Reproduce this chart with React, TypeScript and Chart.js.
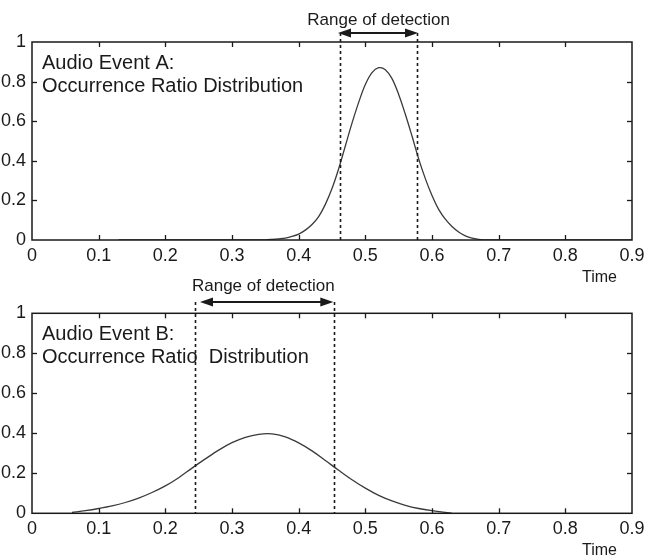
import React, { useEffect, useRef } from "react";
import { Chart, registerables } from "chart.js";

Chart.register(...registerables);

// ---------- data ----------
const timeA = [0.13, 0.2, 0.3, 0.35, 0.36, 0.37, 0.38, 0.39, 0.4, 0.41, 0.42, 0.43, 0.44, 0.45, 0.46, 0.47, 0.48, 0.49, 0.5, 0.51, 0.52, 0.53, 0.54, 0.55, 0.56, 0.57, 0.58, 0.59, 0.6, 0.61, 0.62, 0.63, 0.64, 0.65, 0.66, 0.67, 0.68, 0.75, 0.9];
const valueA = [0, 0, 0, 0.001, 0.003, 0.006, 0.01, 0.018, 0.03, 0.05, 0.078, 0.118, 0.18, 0.26, 0.36, 0.475, 0.59, 0.695, 0.785, 0.845, 0.87, 0.86, 0.815, 0.735, 0.635, 0.525, 0.41, 0.31, 0.225, 0.155, 0.105, 0.068, 0.04, 0.021, 0.009, 0.003, 0, 0, 0];

const timeB = [0.06, 0.08, 0.1, 0.12, 0.14, 0.16, 0.18, 0.2, 0.22, 0.24, 0.26, 0.28, 0.3, 0.32, 0.34, 0.36, 0.38, 0.4, 0.42, 0.44, 0.46, 0.48, 0.5, 0.52, 0.54, 0.56, 0.58, 0.6, 0.62, 0.63];
const valueB = [0.004, 0.013, 0.024, 0.037, 0.054, 0.076, 0.104, 0.137, 0.178, 0.226, 0.272, 0.316, 0.353, 0.38, 0.395, 0.397, 0.382, 0.352, 0.312, 0.264, 0.215, 0.168, 0.126, 0.09, 0.062, 0.04, 0.024, 0.013, 0.005, 0];

const xMin = 0;
const xMax = 0.9;
const xStep = 0.1;
const yMin = 0;
const yMax = 1;
const yStep = 0.2;

const rangeA = [0.462, 0.578];
const rangeB = [0.245, 0.453];
const arrowA = [0.459, 0.579];
const arrowB = [0.252, 0.452];
const rangeLabelXA = 0.52;
const rangeLabelXB = 0.347;

const titleA = ["Audio Event A:", "Occurrence Ratio Distribution"];
const titleB = ["Audio Event B:", "Occurrence Ratio  Distribution"];
const rangeText = "Range of detection";
const xAxisText = "Time";

const FONT = "'Liberation Sans', Arial, Helvetica, sans-serif";

type PanelSpec = {
  time: number[];
  value: number[];
  range: number[];
  arrow: number[];
  rangeLabelX: number;
  title: string[];
  canvasTop: number;
  canvasHeight: number;
  areaTop: number;
  areaBottom: number;
  arrowOffset: number;
  textOffset: number;
};

function line(ctx: CanvasRenderingContext2D, x1: number, y1: number, x2: number, y2: number) {
  ctx.beginPath();
  ctx.moveTo(x1, y1);
  ctx.lineTo(x2, y2);
  ctx.stroke();
}

function makeDecor(spec: PanelSpec) {
  return {
    id: "decor",
    afterDraw(chart: any) {
      const ctx: CanvasRenderingContext2D = chart.ctx;
      const { left, right, top, bottom } = chart.chartArea;
      const xs = chart.scales.x;
      const ys = chart.scales.y;
      ctx.save();
      ctx.strokeStyle = "#1a1a1a";
      ctx.fillStyle = "#1a1a1a";
      ctx.lineWidth = 1.5;
      ctx.strokeRect(left, top, right - left, bottom - top);

      // inward ticks on all sides
      ctx.lineWidth = 1.3;
      const tl = 5;
      xs.ticks.forEach((t: any) => {
        if (t.value <= xs.min + 1e-9 || t.value >= xs.max - 1e-9) return;
        const px = Math.round(xs.getPixelForValue(t.value)) + 0.5;
        line(ctx, px, bottom, px, bottom - tl);
        line(ctx, px, top, px, top + tl);
      });
      ys.ticks.forEach((t: any) => {
        if (t.value <= ys.min + 1e-9 || t.value >= ys.max - 1e-9) return;
        const py = Math.round(ys.getPixelForValue(t.value)) + 0.5;
        line(ctx, left, py, left + tl, py);
        line(ctx, right, py, right - tl, py);
      });

      // dotted range lines
      const arrowY = top - spec.arrowOffset;
      ctx.setLineDash([3, 3]);
      ctx.lineWidth = 1.6;
      spec.range.forEach((v) => {
        const px = Math.round(xs.getPixelForValue(v)) + 0.5;
        line(ctx, px, arrowY, px, bottom);
      });
      ctx.setLineDash([]);

      // double arrow
      const ax1 = xs.getPixelForValue(spec.arrow[0]);
      const ax2 = xs.getPixelForValue(spec.arrow[1]);
      const head = 13;
      const hh = 4.5;
      ctx.lineWidth = 2;
      line(ctx, ax1 + head - 2, arrowY, ax2 - head + 2, arrowY);
      ctx.beginPath();
      ctx.moveTo(ax1, arrowY);
      ctx.lineTo(ax1 + head, arrowY - hh);
      ctx.lineTo(ax1 + head, arrowY + hh);
      ctx.closePath();
      ctx.fill();
      ctx.beginPath();
      ctx.moveTo(ax2, arrowY);
      ctx.lineTo(ax2 - head, arrowY - hh);
      ctx.lineTo(ax2 - head, arrowY + hh);
      ctx.closePath();
      ctx.fill();

      // range label
      ctx.font = `17px ${FONT}`;
      ctx.textAlign = "center";
      ctx.textBaseline = "alphabetic";
      ctx.fillText(rangeText, xs.getPixelForValue(spec.rangeLabelX), top - spec.textOffset);

      // panel title
      ctx.font = `20px ${FONT}`;
      ctx.textAlign = "left";
      ctx.fillText(spec.title[0], left + 10, top + 26.5);
      ctx.fillText(spec.title[1], left + 10, top + 50);

      // axis label
      ctx.font = `16px ${FONT}`;
      ctx.textAlign = "right";
      ctx.fillText(xAxisText, right - 15, bottom + 42);
      ctx.restore();
    },
  };
}

const fmt = (v: any) => `${+Number(v).toFixed(2)}`;

function Panel({ spec }: { spec: PanelSpec }) {
  const ref = useRef<HTMLCanvasElement>(null);
  useEffect(() => {
    if (!ref.current) return;
    const points = spec.time.map((t, i) => ({ x: t, y: spec.value[i] }));
    const tickFont = { family: FONT, size: 18 };
    const chart = new Chart(ref.current, {
      type: "line",
      data: {
        datasets: [
          {
            data: points,
            borderColor: "#3a3a3a",
            borderWidth: 1.3,
            pointRadius: 0,
            tension: 0.35,
            fill: false,
          },
        ],
      },
      options: {
        responsive: false,
        animation: false,
        events: [],
        layout: { padding: { top: spec.areaTop, right: 35, left: 0, bottom: 0 } },
        plugins: { legend: { display: false }, tooltip: { enabled: false } },
        scales: {
          x: {
            type: "linear",
            min: xMin,
            max: xMax,
            grid: { display: false, drawTicks: false },
            border: { display: false },
            ticks: {
              stepSize: xStep,
              font: tickFont,
              color: "#1a1a1a",
              padding: 5,
              maxRotation: 0,
              autoSkip: false,
              callback: fmt,
            },
            afterFit: (s: any) => {
              s.height = spec.canvasHeight - spec.areaBottom;
            },
          },
          y: {
            type: "linear",
            min: yMin,
            max: yMax,
            grid: { display: false, drawTicks: false },
            border: { display: false },
            ticks: {
              stepSize: yStep,
              font: tickFont,
              color: "#1a1a1a",
              padding: 6,
              callback: fmt,
            },
            afterFit: (s: any) => {
              s.width = 32;
            },
          },
        },
      },
      plugins: [makeDecor(spec)],
    } as any);
    return () => chart.destroy();
  }, [spec]);
  return (
    <canvas
      ref={ref}
      width={667}
      height={spec.canvasHeight}
      style={{ position: "absolute", left: 0, top: spec.canvasTop, width: 667, height: spec.canvasHeight, display: "block" }}
    />
  );
}

const panelA: PanelSpec = {
  time: timeA,
  value: valueA,
  range: rangeA,
  arrow: arrowA,
  rangeLabelX: rangeLabelXA,
  title: titleA,
  canvasTop: 0,
  canvasHeight: 290,
  areaTop: 42,
  areaBottom: 240,
  arrowOffset: 9,
  textOffset: 17,
};

const panelB: PanelSpec = {
  time: timeB,
  value: valueB,
  range: rangeB,
  arrow: arrowB,
  rangeLabelX: rangeLabelXB,
  title: titleB,
  canvasTop: 268,
  canvasHeight: 290,
  areaTop: 45.3,
  areaBottom: 245.3,
  arrowOffset: 11.3,
  textOffset: 22.3,
};

export default function App() {
  return (
    <div style={{ position: "absolute", left: 0, top: 0, width: 667, height: 558, background: "#fff" }}>
      <Panel spec={panelA} />
      <Panel spec={panelB} />
    </div>
  );
}
